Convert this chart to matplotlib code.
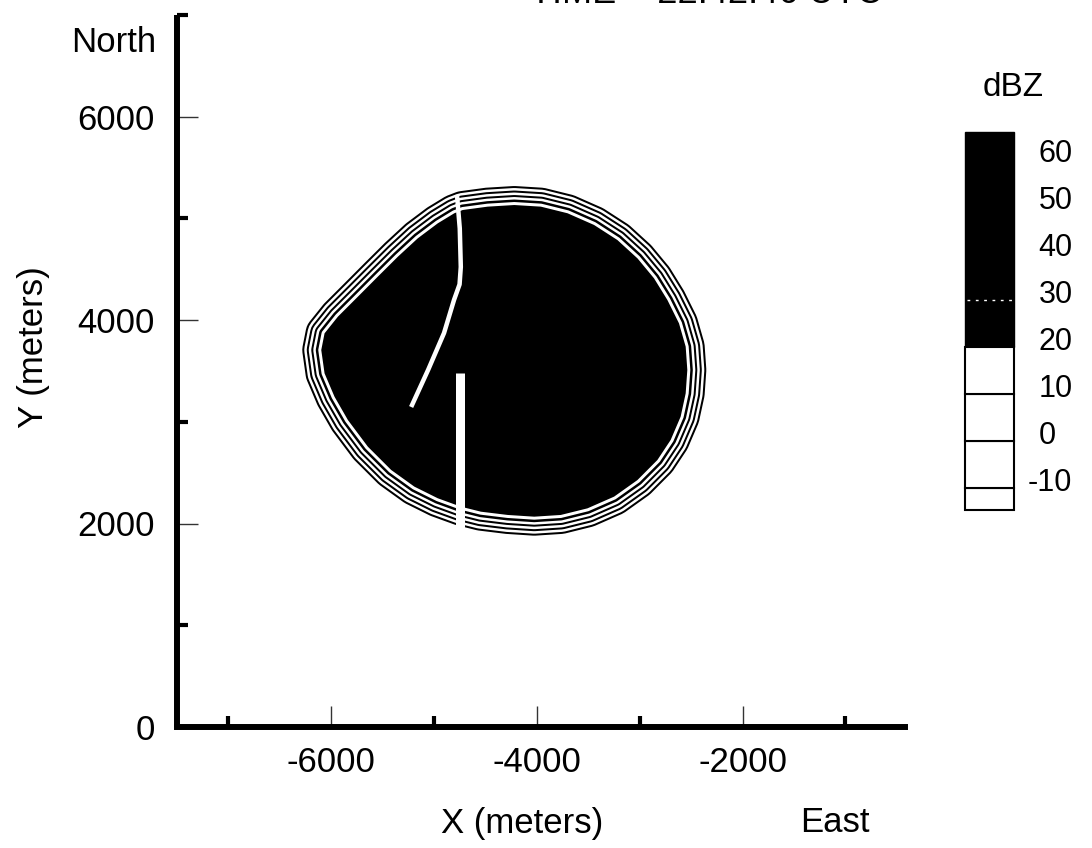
import matplotlib
matplotlib.use("Agg")
import matplotlib.pyplot as plt
import matplotlib.transforms as mtransforms
from matplotlib.patches import Polygon

plt.rcParams['font.family'] = ['Liberation Sans', 'DejaVu Sans']
plt.rcParams['axes.unicode_minus'] = False

# edge of the >= 20 dBZ core (meters)
storm_x = [-4721, -4479, -4220, -3961, -3702, -3444, -3217, -3022, -2861, -2731,
           -2618, -2553, -2537, -2553, -2602, -2699, -2828, -3022, -3249, -3508,
           -3767, -4026, -4284, -4544, -4738, -4964, -5191, -5417, -5644, -5838,
           -5968, -6065, -6097, -6065, -5935, -5741, -5547, -5352, -5158, -4964,
           -4803]
storm_y = [5081, 5114, 5130, 5114, 5049, 4934, 4786, 4606, 4410, 4197,
           3967, 3738, 3509, 3279, 3050, 2821, 2624, 2427, 2264, 2149,
           2084, 2067, 2084, 2116, 2165, 2248, 2362, 2526, 2755, 3017,
           3246, 3476, 3705, 3869, 4033, 4229, 4426, 4622, 4803, 4950,
           5049]

# curved white track
track_x = [-4777, -4750, -4740, -4752, -4806, -4903, -5058, -5223]
track_y = [5230, 4900, 4521, 4350, 4197, 3872, 3509, 3145]

# straight white track
bar_x = [-4748, -4748]
bar_y = [1880, 3480]

# dBZ legend
legend_levels = [60, 50, 40, 30, 20, 10, 0, -10]
legend_white = [-10, 0, 10]      # white bins (10 dBZ wide)
legend_core = 20                 # black above this
legend_range = (-14.6, 65.8)

fig = plt.figure(figsize=(10.92, 8.48), dpi=100)
ax = fig.add_axes([177/1092, 1-727/848, (905-177)/1092, (727-14.75)/848])

# contour rings: stroke the outline with alternating widths, then fill the core
px = 0.72
outline = list(zip(storm_x, storm_y))
for w, c in [(38, 'black'), (34, 'white'), (29, 'black'), (25, 'white'),
             (20, 'black'), (16, 'white'), (11, 'black'), (6, 'white')]:
    ax.add_patch(Polygon(outline, closed=True, fill=False, edgecolor=c,
                         lw=w*px, joinstyle='round', zorder=2))
ax.add_patch(Polygon(outline, closed=True, facecolor='black', lw=0, zorder=3))

ax.plot(track_x, track_y, color='white', lw=4.5*px, solid_capstyle='butt', zorder=4)
ax.plot(bar_x, bar_y, color='white', lw=9*px, solid_capstyle='butt', zorder=4)

ax.set_xlim(-7500, -420)
ax.set_ylim(0, 7000)
ax.spines['top'].set_visible(False)
ax.spines['right'].set_visible(False)
ax.spines['left'].set_linewidth(4.3)
ax.spines['bottom'].set_linewidth(4.3)
ax.spines['left'].set_capstyle('butt')

ax.set_xticks([-6000, -4000, -2000])
ax.set_xticks([-7000, -5000, -3000, -1000], minor=True)
ax.set_yticks([0, 2000, 4000, 6000])
ax.set_yticks([1000, 3000, 5000, 7000], minor=True)
ax.tick_params(which='major', direction='in', length=15, width=1.0,
               color='#333333', labelsize=25, pad=14)
ax.tick_params(which='minor', direction='in', length=8, width=3.0, color='black')
ax.tick_params(axis='y', which='major', pad=16)

fig.text(522/1092, 1-823/848, "X (meters)", fontsize=25, ha='center', va='center')
fig.text(835/1092, 1-823/848, "East", fontsize=25, ha='center', va='center')
fig.text(33/1092, 1-347/848, "Y (meters)", fontsize=25, ha='center', va='center',
         rotation=90)
fig.text(156/1092, 1-42/848, "North", fontsize=25, ha='right', va='center')
fig.text(706/1092, 1-3/848, "TIME = 22:42:46 UTC", fontsize=26, ha='center',
         va='baseline')

# legend bar
cax = fig.add_axes([965/1092, 1-510/848, 49/1092, 378/848])
cax.set_xlim(0, 1)
cax.set_ylim(*legend_range)
cax.bar(0.5, legend_range[1] - legend_core, bottom=legend_core, width=1,
        color='black', edgecolor='black', lw=1, clip_on=False)
cax.bar(0.5, legend_white[0] - legend_range[0], bottom=legend_range[0], width=1,
        color='white', edgecolor='black', lw=1.5, clip_on=False)
for b in legend_white:
    cax.bar(0.5, 10, bottom=b, width=1, color='white', edgecolor='black',
            lw=1.5, clip_on=False)
cax.axhline(30, xmin=0.05, xmax=0.95, color='white', lw=1, ls=(0, (2, 4)))
cax.axis('off')
lift = mtransforms.ScaledTranslation(0, 5/100, fig.dpi_scale_trans)
for lev in legend_levels:
    lab = str(lev)
    dx = -0.22 if lab.startswith('-') else 0
    cax.text(1.5 + dx, lev, lab, fontsize=22, ha='left', va='center',
             transform=cax.get_yaxis_transform() + lift)
fig.text(1013/1092, 1-87/848, "dBZ", fontsize=24, ha='center', va='center')

fig.savefig("out.png", dpi=100)
